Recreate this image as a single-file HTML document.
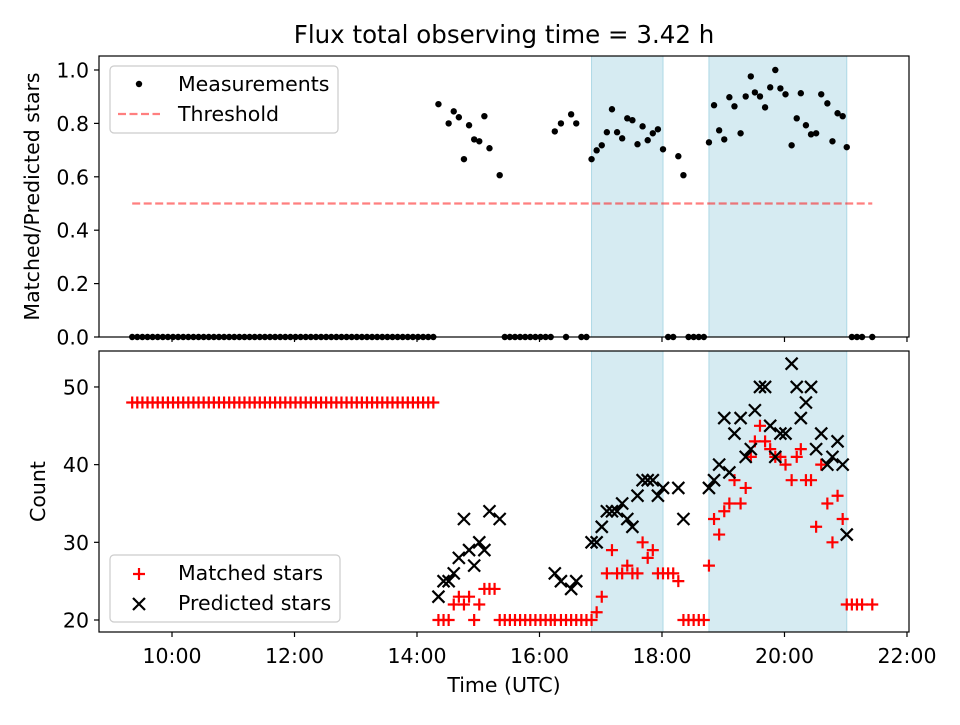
<!DOCTYPE html>
<html><head><meta charset="utf-8"><style>
body{margin:0;background:#fff;}
svg text{font-family:"DejaVu Sans","Liberation Sans",sans-serif;fill:#000;}
</style></head><body>
<svg id="chart" width="960" height="720" viewBox="0 0 960 720" xmlns="http://www.w3.org/2000/svg">
<rect width="960" height="720" fill="#fff"/>
<text x="504" y="43" font-size="24.5" text-anchor="middle">Flux total observing time = 3.42 h</text>
<g id="top"></g><g id="bot"></g>
</svg>
<script>
const times = ["09:21","09:26","09:31","09:36","09:41","09:46","09:51","09:56","10:01","10:06","10:11","10:16","10:21","10:26","10:31","10:36","10:41","10:46","10:51","10:56","11:01","11:06","11:11","11:16","11:21","11:26","11:31","11:36","11:41","11:46","11:51","11:56","12:01","12:06","12:11","12:16","12:21","12:26","12:31","12:36","12:41","12:46","12:51","12:56","13:01","13:06","13:11","13:16","13:21","13:26","13:31","13:36","13:41","13:46","13:51","13:56","14:01","14:06","14:11","14:16",
"14:21","14:26","14:31","14:36","14:41","14:46","14:51","14:56","15:01","15:06","15:11","15:16","15:21",
"15:26","15:31","15:36","15:41","15:46","15:51","15:56","16:01","16:06","16:11",
"16:15","16:21","16:26","16:31","16:36","16:41","16:46",
"16:51","16:56","17:01","17:06","17:11","17:16","17:21","17:26","17:31","17:36","17:41","17:46","17:51","17:56","18:01","18:06","18:11","18:16","18:21","18:26","18:31","18:36","18:41",
"18:46","18:51","18:56","19:01","19:06","19:11","19:17","19:22","19:27","19:31","19:36","19:41","19:46","19:51","19:56","20:01","20:07","20:12","20:16","20:21","20:26","20:31","20:36","20:42","20:47","20:52","20:57","21:01","21:06","21:11","21:16","21:26"];
const ratio = [0,0,0,0,0,0,0,0,0,0,0,0,0,0,0,0,0,0,0,0,0,0,0,0,0,0,0,0,0,0,0,0,0,0,0,0,0,0,0,0,0,0,0,0,0,0,0,0,0,0,0,0,0,0,0,0,0,0,0,0,
0.872,null,0.800,0.845,0.823,0.666,0.793,0.740,0.733,0.827,0.707,null,0.606,
0,0,0,0,0,0,0,0,0,0,
0.770,0.800,0,0.834,0.800,0,0,
0.666,0.699,0.718,0.767,0.853,0.767,0.744,0.819,0.812,0.722,0.789,0.737,0.763,0.778,0.703,0,0,0.677,0.606,0,0,0,0,
0.729,0.868,0.774,0.740,0.898,0.864,0.763,0.901,0.976,0.916,0.901,0.860,0.935,1.0,0.931,0.909,0.718,0.819,0.913,0.793,0.759,0.763,0.909,0.875,0.733,0.838,0.827,0.711,0,0,0,0];
const matched = [48,48,48,48,48,48,48,48,48,48,48,48,48,48,48,48,48,48,48,48,48,48,48,48,48,48,48,48,48,48,48,48,48,48,48,48,48,48,48,48,48,48,48,48,48,48,48,48,48,48,48,48,48,48,48,48,48,48,48,48,
20,20,20,22,23,22,23,20,22,24,24,24,20,
20,20,20,20,20,20,20,20,20,20,
20,20,20,20,20,20,20,
20,21,23,26,29,26,26,27,26,26,30,28,29,26,26,26,26,25,20,20,20,20,20,
27,33,31,34,35,38,35,37,41,43,45,43,42,41,41,40,38,41,42,38,38,32,40,35,30,36,33,22,22,22,22,22];
const predicted = [null,null,null,null,null,null,null,null,null,null,null,null,null,null,null,null,null,null,null,null,null,null,null,null,null,null,null,null,null,null,null,null,null,null,null,null,null,null,null,null,null,null,null,null,null,null,null,null,null,null,null,null,null,null,null,null,null,null,null,null,
23,25,25,26,28,33,29,27,30,29,34,null,33,
null,null,null,null,null,null,null,null,null,null,
26,25,null,24,25,null,null,
30,30,32,34,34,34,35,33,32,36,38,38,38,36,37,null,null,37,33,null,null,null,null,
37,38,40,46,39,44,46,41,42,47,50,50,45,41,44,44,53,50,46,48,50,42,44,40,41,43,40,31,null,null,null,null];
const spanStart = ["16:51","18:46"];
const spanEnd = ["18:01","21:01"];
const threshold = 0.5;
const yTopTicks = [0,0.2,0.4,0.6,0.8,1.0];
const yBotTicks = [20,30,40,50];
const xTicks = ["10:00","12:00","14:00","16:00","18:00","20:00","22:00"];

const NS="http://www.w3.org/2000/svg";
const FS=20.5;
function h(t){const p=t.split(":");return +p[0]+p[1]/60;}
const L=99,R=909,X0=8.808,X1=22.033;
function xs(t){return L+(h(t)-X0)/(X1-X0)*(R-L);}
const T0=56,T1=337; function yt(v){return T1-(v-0)/1.0524*(T1-T0);}
const B0=351,B1=632; function yb(v){return B1-(v-18.455)/(54.63-18.455)*(B1-B0);}
function mk(p,tag,a){const e=document.createElementNS(NS,tag);for(const k in a)e.setAttribute(k,a[k]);p.appendChild(e);return e;}
const gT=document.getElementById('top'),gB=document.getElementById('bot');

function panel(g,Y0,Y1,ys,ticks,fmt,label,labelX,showX){
  for(let i=0;i<spanStart.length;i++){
    const r=mk(g,'rect',{x:xs(spanStart[i]),y:Y0,width:xs(spanEnd[i])-xs(spanStart[i]),height:Y1-Y0,fill:'#add8e6','fill-opacity':0.5,stroke:'#add8e6','stroke-width':1});
    
    
  }
  ticks.forEach(v=>{const y=ys(v);mk(g,'line',{x1:L-5,x2:L,y1:y,y2:y,stroke:'#000','stroke-width':1.2});
    const t=mk(g,'text',{x:L-10,y:y+7.5,'font-size':FS,'text-anchor':'end'});t.textContent=fmt(v);
    
    });
  xTicks.forEach(s=>{const x=xs(s);mk(g,'line',{x1:x,x2:x,y1:Y1,y2:Y1+5,stroke:'#000','stroke-width':1.2});
    if(showX){const t=mk(g,'text',{x:x,y:Y1+31,'font-size':FS,'text-anchor':'middle'});t.textContent=s;
    
    }});
  const yl=mk(g,'text',{transform:`translate(${labelX},${(Y0+Y1)/2}) rotate(-90)`,'font-size':FS,'text-anchor':'middle'});yl.textContent=label;
  
  
}
panel(gT,T0,T1,yt,yTopTicks,v=>v.toFixed(1),'Matched/Predicted stars',39,false);
panel(gB,B0,B1,yb,yBotTicks,v=>String(v),'Count',45,true);
const xl=mk(gB,'text',{x:504,y:692,'font-size':FS,'text-anchor':'middle'});xl.textContent='Time (UTC)';



const th=mk(gT,'line',{x1:xs(times[0]),x2:xs(times[times.length-1]),y1:yt(threshold),y2:yt(threshold),stroke:'#ff0000','stroke-opacity':0.5,'stroke-width':2.2,'stroke-dasharray':'8,3.5'});


times.forEach((t,i)=>{
  const x=xs(t);
  if(ratio[i]!==null){const c=mk(gT,'circle',{cx:x,cy:yt(ratio[i]),r:3.2,fill:'#000'});
    
    }
  if(matched[i]!==null){const y=yb(matched[i]);const p=mk(gB,'path',{d:`M${x-6},${y}H${x+6}M${x},${y-6}V${y+6}`,stroke:'#ff0000','stroke-width':2.2});
    
    }
});
times.forEach((t,i)=>{
  if(predicted[i]!==null){const x=xs(t),y=yb(predicted[i]);const p=mk(gB,'path',{d:`M${x-6},${y-6}L${x+6},${y+6}M${x-6},${y+6}L${x+6},${y-6}`,stroke:'#000','stroke-width':2.2});
    
    }
});
[gT,gB].forEach((g,k)=>{const Y0=k?B0:T0,Y1=k?B1:T1;const f=mk(g,'rect',{x:L,y:Y0,width:R-L,height:Y1-Y0,fill:'none',stroke:'#000','stroke-width':1.2});
  
  });

// legends
const lg1=mk(gT,'rect',{x:110,y:66,width:228,height:67,rx:4,fill:'#fff','fill-opacity':0.8,stroke:'#ccc','stroke-width':1.2});


mk(gT,'circle',{cx:139,cy:84,r:3.2,fill:'#000'});
let t1=mk(gT,'text',{x:178,y:91,'font-size':FS});t1.textContent='Measurements';


mk(gT,'line',{x1:118,x2:160,y1:114,y2:114,stroke:'#ff0000','stroke-opacity':0.5,'stroke-width':2.2,'stroke-dasharray':'8,3.5'});
let t2=mk(gT,'text',{x:178,y:121,'font-size':FS});t2.textContent='Threshold';


const lg2=mk(gB,'rect',{x:110,y:555,width:230,height:67,rx:4,fill:'#fff','fill-opacity':0.8,stroke:'#ccc','stroke-width':1.2});


mk(gB,'path',{d:'M133,574H145M139,568V580',stroke:'#ff0000','stroke-width':2.2});
let t3=mk(gB,'text',{x:178,y:580,'font-size':FS});t3.textContent='Matched stars';


mk(gB,'path',{d:'M133,598L145,610M133,610L145,598',stroke:'#000','stroke-width':2.2});
let t4=mk(gB,'text',{x:178,y:610,'font-size':FS});t4.textContent='Predicted stars';


</script>
</body></html>
